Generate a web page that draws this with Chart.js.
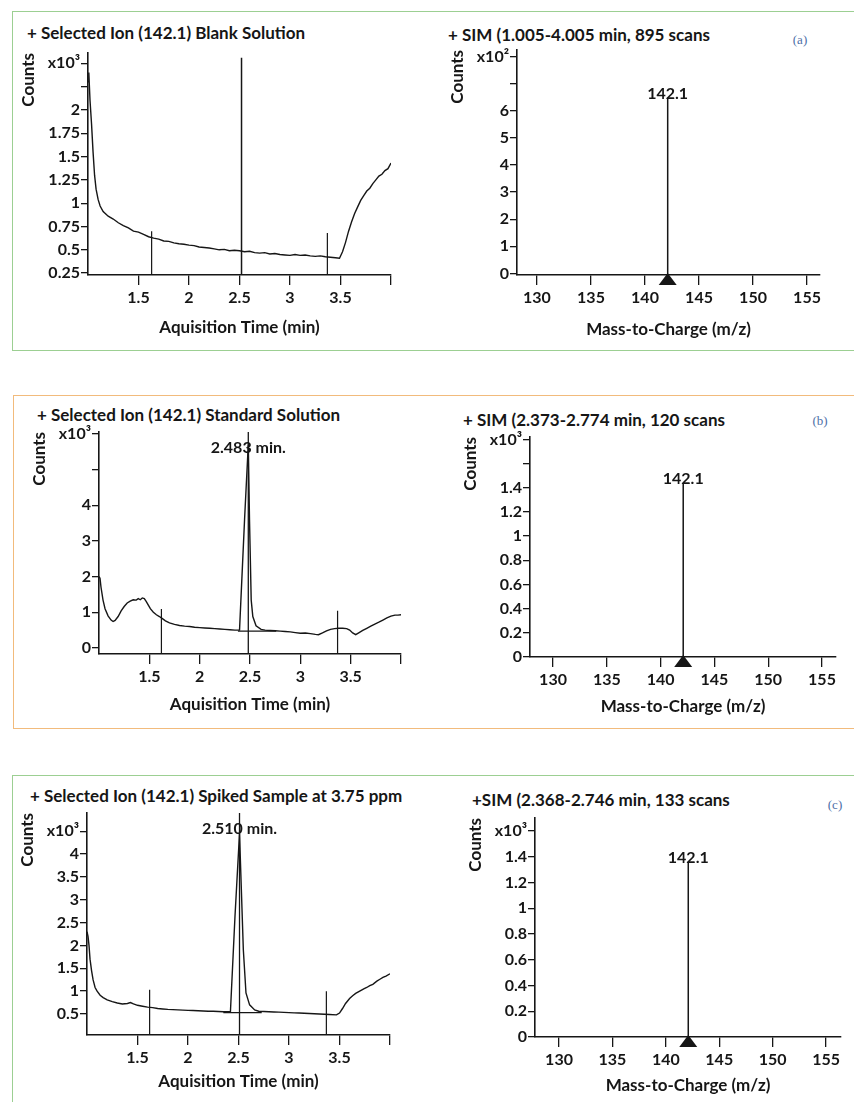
<!DOCTYPE html>
<html>
<head>
<meta charset="utf-8">
<title>SIM chromatograms and spectra, m/z 142.1</title>
<script src="https://cdn.jsdelivr.net/npm/chart.js@4.4.1/dist/chart.umd.min.js"></script>
<style>
  body { margin: 0; width: 854px; height: 1102px; position: relative; overflow: hidden; background: #fff; font-family: Lato, sans-serif; color: #161616; }
  .box { position: absolute; border: 1.5px solid; box-sizing: border-box; }
  .heading { position: absolute; font-weight: bold; font-size: 17px; white-space: nowrap; transform: translateY(-50%); }
  .tag { position: absolute; font-family: 'Liberation Serif', serif; font-size: 13px; color: #4d6fa8; transform: translate(-50%, -50%); }
  canvas { position: absolute; }
</style>
</head>
<body>
<div class="box" style="left:12px; top:11px; width:860px; height:340px; border-color:#9ccf92;"></div>
<div class="box" style="left:13px; top:395px; width:860px; height:334px; border-color:#f2bb7c;"></div>
<div class="box" style="left:12px; top:775px; width:860px; height:400px; border-color:#9ccf92;"></div>

<div class="heading" style="left:27px; top:32px;">+ Selected Ion (142.1) Blank Solution</div>
<div class="heading" style="left:448px; top:34px;">+ SIM (1.005-4.005 min, 895 scans</div>
<div class="tag" style="left:800px; top:40px;">(a)</div>
<div class="heading" style="left:37px; top:414px;">+ Selected Ion (142.1) Standard Solution</div>
<div class="heading" style="left:463px; top:419px;">+ SIM (2.373-2.774 min, 120 scans</div>
<div class="tag" style="left:820px; top:421px;">(b)</div>
<div class="heading" style="left:30px; top:795px;">+ Selected Ion (142.1) Spiked Sample at 3.75 ppm</div>
<div class="heading" style="left:472px; top:799px;">+SIM (2.368-2.746 min, 133 scans</div>
<div class="tag" style="left:835px; top:805px;">(c)</div>

<script>
// ---- chromatogram data: acquisition time (min) vs counts (x10^3) ----
const blankTime = [
  1.000, 1.008, 1.020, 1.035, 1.050, 1.065, 1.080, 1.100, 1.120, 1.150,
  1.20, 1.25, 1.30, 1.35, 1.40, 1.45, 1.50, 1.55, 1.60, 1.65,
  1.70, 1.75, 1.80, 1.85, 1.90, 1.95, 2.00, 2.05, 2.10, 2.15,
  2.20, 2.25, 2.30, 2.35, 2.40, 2.45, 2.50, 2.55, 2.60, 2.65,
  2.70, 2.75, 2.80, 2.85, 2.90, 2.95, 3.00, 3.05, 3.10, 3.15,
  3.20, 3.25, 3.30, 3.35, 3.40, 3.45, 3.49, 3.52, 3.55, 3.58,
  3.61, 3.64, 3.67, 3.70, 3.73, 3.76, 3.79, 3.82, 3.85, 3.88,
  3.91, 3.94, 3.97, 4.00
];
const blankCounts = [
  2.30, 2.40, 2.10, 1.85, 1.55, 1.30, 1.15, 1.04, 0.97, 0.91,
  0.86, 0.83, 0.79, 0.76, 0.735, 0.70, 0.69, 0.665, 0.64, 0.625,
  0.615, 0.595, 0.59, 0.575, 0.565, 0.56, 0.55, 0.545, 0.53, 0.525,
  0.52, 0.51, 0.50, 0.505, 0.49, 0.495, 0.49, 0.48, 0.485, 0.47,
  0.465, 0.47, 0.455, 0.46, 0.45, 0.445, 0.44, 0.45, 0.44, 0.445,
  0.435, 0.43, 0.435, 0.425, 0.42, 0.415, 0.41, 0.48, 0.58, 0.70,
  0.80, 0.89, 0.96, 1.03, 1.08, 1.13, 1.16, 1.21, 1.25, 1.29,
  1.31, 1.35, 1.37, 1.43
];
const blankMarkTime = [1.63, 3.37];
const blankMarkTop = [0.70, 0.68];
const blankCursorTime = [2.52];
const blankCursorTop = [2.56];

const stdTime = [
  1.000, 1.010, 1.020, 1.040, 1.060, 1.090, 1.120, 1.140, 1.160, 1.190,
  1.220, 1.250, 1.280, 1.310, 1.340, 1.370, 1.390, 1.410, 1.430, 1.450,
  1.470, 1.490, 1.510, 1.540, 1.570, 1.600, 1.630, 1.660, 1.700, 1.750,
  1.800, 1.850, 1.900, 1.950, 2.000, 2.050, 2.100, 2.150, 2.200, 2.250,
  2.300, 2.350, 2.396, 2.446, 2.483, 2.495, 2.512, 2.528, 2.560, 2.610,
  2.650, 2.700, 2.750, 2.800, 2.850, 2.900, 2.950, 3.000, 3.050, 3.100,
  3.150, 3.180, 3.220, 3.260, 3.300, 3.340, 3.380, 3.420, 3.460, 3.490,
  3.520, 3.550, 3.580, 3.620, 3.660, 3.700, 3.740, 3.780, 3.820, 3.860,
  3.900, 3.940, 3.970, 4.000
];
const stdCounts = [
  2.00, 1.95, 1.70, 1.34, 1.10, 0.90, 0.78, 0.74, 0.77, 0.88,
  1.04, 1.16, 1.26, 1.31, 1.35, 1.34, 1.38, 1.35, 1.40, 1.38,
  1.30, 1.20, 1.10, 1.00, 0.93, 0.88, 0.82, 0.76, 0.70, 0.66,
  0.63, 0.61, 0.60, 0.58, 0.57, 0.56, 0.55, 0.54, 0.53, 0.52,
  0.51, 0.50, 0.50, 3.60, 5.70, 3.60, 1.34, 0.88, 0.62, 0.52,
  0.50, 0.49, 0.48, 0.47, 0.46, 0.45, 0.43, 0.41, 0.42, 0.40,
  0.38, 0.37, 0.42, 0.48, 0.52, 0.54, 0.55, 0.55, 0.54, 0.50,
  0.42, 0.37, 0.42, 0.49, 0.55, 0.61, 0.67, 0.72, 0.78, 0.84,
  0.89, 0.92, 0.92, 0.93
];
const stdPeakTime = 2.483;
const stdBaseTime = [2.38, 2.76];
const stdBaseCounts = [0.47, 0.47];
const stdMarkTime = [1.62, 3.37];
const stdMarkTop = [1.09, 1.04];

const spikedTime = [
  1.000, 1.010, 1.020, 1.030, 1.045, 1.060, 1.080, 1.100, 1.130, 1.160,
  1.200, 1.250, 1.300, 1.350, 1.400, 1.430, 1.460, 1.500, 1.550, 1.600,
  1.650, 1.700, 1.750, 1.800, 1.850, 1.900, 1.950, 2.000, 2.050, 2.100,
  2.150, 2.200, 2.250, 2.300, 2.350, 2.420, 2.465, 2.510, 2.548, 2.574,
  2.610, 2.660, 2.700, 2.750, 2.800, 2.850, 2.900, 2.950, 3.000, 3.050,
  3.100, 3.150, 3.200, 3.250, 3.300, 3.350, 3.400, 3.470, 3.500, 3.530,
  3.560, 3.600, 3.630, 3.660, 3.700, 3.740, 3.770, 3.800, 3.830, 3.870,
  3.900, 3.930, 3.960, 4.000
];
const spikedCounts = [
  2.30, 2.20, 2.00, 1.70, 1.45, 1.25, 1.08, 1.00, 0.91, 0.86,
  0.81, 0.77, 0.74, 0.72, 0.73, 0.75, 0.72, 0.69, 0.67, 0.65,
  0.64, 0.62, 0.61, 0.60, 0.595, 0.59, 0.585, 0.58, 0.575, 0.57,
  0.565, 0.56, 0.56, 0.555, 0.55, 0.55, 2.63, 4.45, 1.90, 0.96,
  0.70, 0.59, 0.56, 0.555, 0.55, 0.545, 0.54, 0.535, 0.53, 0.525,
  0.52, 0.515, 0.51, 0.505, 0.50, 0.495, 0.49, 0.48, 0.52, 0.62,
  0.73, 0.84, 0.90, 0.95, 1.00, 1.05, 1.08, 1.12, 1.15, 1.22,
  1.26, 1.30, 1.33, 1.38
];
const spikedPeakTime = 2.510;
const spikedBaseTime = [2.35, 2.73];
const spikedBaseCounts = [0.53, 0.53];
const spikedMarkTime = [1.62, 3.37];
const spikedMarkTop = [1.03, 1.00];

// ---- SIM spectra: one ion, counts in the axis multiplier ----
const simMz = [142.1];
const blankSimCounts = [6.5];    // x10^2
const stdSimCounts = [1.44];     // x10^3
const spikedSimCounts = [1.36];  // x10^3

// ---- tick values and their printed labels ----
const timeTicks = [1.5, 2, 2.5, 3, 3.5, 4];
const timeTickLabels = ['1.5', '2', '2.5', '3', '3.5', ''];
const mzTicks = [130, 135, 140, 145, 150, 155];
const mzTickLabels = ['130', '135', '140', '145', '150', '155'];
const blankTicks = [0.25, 0.5, 0.75, 1, 1.25, 1.5, 1.75, 2, 2.25, 2.5];
const blankTickLabels = ['0.25', '0.5', '0.75', '1', '1.25', '1.5', '1.75', '2', '', 'x10\u00b3'];
const blankSimTicks = [0, 1, 2, 3, 4, 5, 6, 7, 8];
const blankSimTickLabels = ['0', '1', '2', '3', '4', '5', '6', '', 'x10\u00b2'];
const stdTicks = [0, 1, 2, 3, 4, 5, 6];
const stdTickLabels = ['0', '1', '2', '3', '4', '', 'x10\u00b3'];
const stdSimTicks = [0, 0.2, 0.4, 0.6, 0.8, 1, 1.2, 1.4, 1.6, 1.8];
const stdSimTickLabels = ['0', '0.2', '0.4', '0.6', '0.8', '1', '1.2', '1.4', '', 'x10\u00b3'];
const spikedTicks = [0.5, 1, 1.5, 2, 2.5, 3, 3.5, 4, 4.5];
const spikedTickLabels = ['0.5', '1', '1.5', '2', '2.5', '3', '3.5', '4', 'x10\u00b3'];
const spikedSimTicks = [0, 0.2, 0.4, 0.6, 0.8, 1, 1.2, 1.4, 1.6];
const spikedSimTickLabels = ['0', '0.2', '0.4', '0.6', '0.8', '1', '1.2', '1.4', 'x10\u00b3'];

const INK = '#161616';
const TICK_FONT = { family: 'Lato, sans-serif', size: 16, weight: 'bold' };
const TITLE_FONT = { family: 'Lato, sans-serif', size: 17, weight: 'bold' };
const Y_BAND = 75, TOP_PAD = 18, RIGHT_PAD = 24;

function pairs(xs, ys) {
  return xs.map((x, i) => ({ x, y: ys[i] }));
}

// vertical segments from each top down to the axis floor, split by gaps
function drops(xs, tops, floor) {
  const pts = [];
  xs.forEach((x, i) => {
    if (i) pts.push({ x, y: null });
    pts.push({ x, y: tops[i] }, { x, y: floor });
  });
  return pts;
}

function line(data, width) {
  return { data, showLine: true, borderColor: INK, borderWidth: width, pointRadius: 0, spanGaps: false, tension: 0 };
}

// peak retention-time / m/z captions and the precursor triangle
const peakNotes = {
  id: 'peakNotes',
  afterDatasetsDraw(chart, args, opts) {
    const { ctx, chartArea, scales } = chart;
    ctx.save();
    ctx.fillStyle = INK;
    ctx.font = 'bold 16px Lato, sans-serif';
    ctx.textAlign = 'center';
    if (opts.caption) {
      const px = scales.x.getPixelForValue(opts.caption.x);
      if (opts.caption.y != null) {
        ctx.textBaseline = 'bottom';
        ctx.fillText(opts.caption.text, px, scales.y.getPixelForValue(opts.caption.y) + 4);
      } else {
        ctx.textBaseline = 'middle';
        ctx.fillText(opts.caption.text, px, chartArea.top + 16);
      }
    }
    if (opts.triangleAt != null) {
      const px = scales.x.getPixelForValue(opts.triangleAt);
      const base = chartArea.bottom;
      ctx.beginPath();
      ctx.moveTo(px, base - 2);
      ctx.lineTo(px + 9, base + 10);
      ctx.lineTo(px - 9, base + 10);
      ctx.closePath();
      ctx.fill();
    }
    ctx.restore();
  }
};

function axis(cfg, pos) {
  const left = pos === 'left';
  return {
    type: 'linear',
    position: pos,
    min: cfg.min,
    max: cfg.max,
    afterBuildTicks: s => { s.ticks = cfg.ticks.map(value => ({ value })); },
    afterFit: s => {
      if (left) s.width = Y_BAND; else s.height = cfg.gap + 10;
      s.paddingLeft = s.paddingRight = s.paddingTop = s.paddingBottom = 0;
    },
    border: { display: true, color: INK, width: 1.6 },
    grid: { display: true, drawOnChartArea: false, drawTicks: true, tickLength: left ? 7 : 10, color: INK, lineWidth: 1.3 },
    ticks: {
      color: INK, font: TICK_FONT, padding: left ? 1 : 3,
      autoSkip: false, maxRotation: 0, minRotation: 0,
      callback: (v, i) => cfg.labels[i]
    },
    title: {
      display: true, text: cfg.title, color: INK, font: TITLE_FONT,
      align: left ? 'end' : 'center',
      padding: left ? { top: 5, bottom: 0 } : { top: 0, bottom: 0 }
    }
  };
}

function panel(plot, xCfg, yCfg, datasets, notes) {
  const [l, t, r, b] = plot;
  const canvas = document.createElement('canvas');
  const w = Y_BAND + (r - l) + RIGHT_PAD;
  const h = TOP_PAD + (b - t) + xCfg.gap + 10;
  canvas.width = w;
  canvas.height = h;
  canvas.style.left = (l - Y_BAND) + 'px';
  canvas.style.top = (t - TOP_PAD) + 'px';
  canvas.style.width = w + 'px';
  canvas.style.height = h + 'px';
  document.body.appendChild(canvas);

  return new Chart(canvas, {
    type: 'scatter',
    data: { datasets },
    options: {
      responsive: false,
      animation: false,
      devicePixelRatio: 1,
      layout: { padding: { top: TOP_PAD, right: RIGHT_PAD, left: 0, bottom: 0 } },
      scales: { x: axis(xCfg, 'bottom'), y: axis(yCfg, 'left') },
      plugins: { legend: { display: false }, tooltip: { enabled: false }, peakNotes: notes || {} }
    },
    plugins: [peakNotes]
  });
}

const timeAxis = gap => ({ min: 1, max: 4, ticks: timeTicks, labels: timeTickLabels, title: 'Aquisition Time (min)', gap });
const mzAxis = (min, max, gap) => ({ min, max, ticks: mzTicks, labels: mzTickLabels, title: 'Mass-to-Charge (m/z)', gap });
const countAxis = (min, max, ticks, labels) => ({ min, max, ticks, labels, title: 'Counts' });
const mzCaption = counts => ({ x: simMz[0], y: counts[0], text: simMz[0].toFixed(1) });

// (a) blank solution
const blankY = countAxis(0.23, 2.61, blankTicks, blankTickLabels);
panel([88, 53, 391, 275], timeAxis(53), blankY, [
  line(pairs(blankTime, blankCounts), 1.4),
  line(drops(blankMarkTime, blankMarkTop, blankY.min), 1.2),
  line(drops(blankCursorTime, blankCursorTop, blankY.min), 1.5)
]);
const blankSimY = countAxis(-0.06, 8.25, blankSimTicks, blankSimTickLabels);
panel([517, 50, 820, 275], mzAxis(128.15, 156.2, 55), blankSimY, [
  line(drops(simMz, blankSimCounts, blankSimY.min), 1.5)
], { caption: mzCaption(blankSimCounts), triangleAt: simMz[0] });

// (b) standard solution
const stdY = countAxis(-0.17, 6.05, stdTicks, stdTickLabels);
panel([99, 432, 401, 654], timeAxis(51), stdY, [
  line(pairs(stdTime, stdCounts), 1.4),
  line(pairs(stdBaseTime, stdBaseCounts), 1.1),
  line(drops(stdMarkTime, stdMarkTop, stdY.min), 1.2),
  line(drops([stdPeakTime], [stdY.max], stdY.min), 1.3)
], { caption: { x: stdPeakTime, text: stdPeakTime.toFixed(3) + ' min.' } });
const stdSimY = countAxis(0, 1.82, stdSimTicks, stdSimTickLabels);
panel([530, 437, 836, 657], mzAxis(127.86, 156.3, 50), stdSimY, [
  line(drops(simMz, stdSimCounts, stdSimY.min), 1.5)
], { caption: mzCaption(stdSimCounts), triangleAt: simMz[0] });

// (c) spiked sample
const spikedY = countAxis(0.04, 4.9, spikedTicks, spikedTickLabels);
panel([87, 813, 390, 1035], timeAxis(47), spikedY, [
  line(pairs(spikedTime, spikedCounts), 1.4),
  line(pairs(spikedBaseTime, spikedBaseCounts), 1.1),
  line(drops(spikedMarkTime, spikedMarkTop, spikedY.min), 1.2),
  line(drops([spikedPeakTime], [spikedY.max], spikedY.min), 1.3)
], { caption: { x: spikedPeakTime, text: spikedPeakTime.toFixed(3) + ' min.' } });
const spikedSimY = countAxis(0, 1.7, spikedSimTicks, spikedSimTickLabels);
panel([535, 818, 841, 1037], mzAxis(127.75, 156.4, 49), spikedSimY, [
  line(drops(simMz, spikedSimCounts, spikedSimY.min), 1.5)
], { caption: mzCaption(spikedSimCounts), triangleAt: simMz[0] });
</script>
</body>
</html>
